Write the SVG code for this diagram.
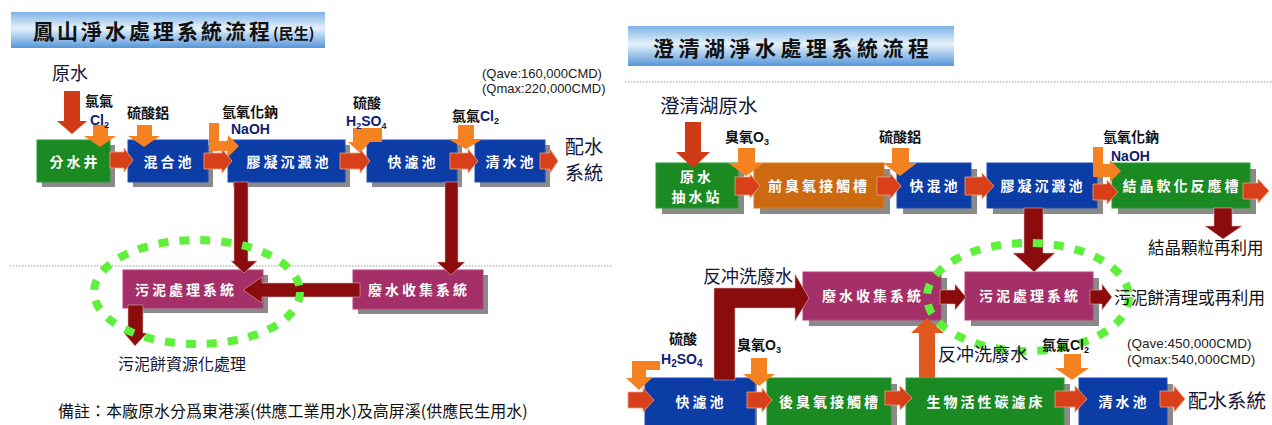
<svg xmlns="http://www.w3.org/2000/svg" width="1272" height="425" viewBox="0 0 1272 425">
<defs>
<linearGradient id="ban" x1="0" y1="0" x2="0" y2="1">
<stop offset="0" stop-color="#7db2e6"/>
<stop offset="0.45" stop-color="#e6f2fb"/>
<stop offset="1" stop-color="#5596da"/>
</linearGradient>
<style>
.t{font-family:"Liberation Sans","Noto Sans CJK TC",sans-serif;fill:#111}
.cj{font-family:"Noto Sans CJK TC",sans-serif;fill:#151535}
.title{font-family:"Noto Sans CJK TC",sans-serif;font-weight:bold;fill:#111;font-size:21px;letter-spacing:3px}
.bx{font-family:"Noto Sans CJK TC",sans-serif;font-weight:bold;fill:#fff;font-size:14px;letter-spacing:3px;text-anchor:middle}
.sh{fill:#8a8a8a}
.blue{fill:#0c3ca6;stroke:#1c4cb8;stroke-width:1}
.green{fill:#1b8a22;stroke:#2a9a32;stroke-width:1}
.mag{fill:#a52f68;stroke:#b5407a;stroke-width:1}
.org{fill:#cc6a12;stroke:#d87a22;stroke-width:1}
.ra{fill:#d8401a;stroke:#f0a080;stroke-width:0.8}
.oa{fill:#f58220}
.da{fill:#8a0c0c;stroke:#d9b0b0;stroke-width:0.6}
.ua{fill:#e05a20}
.dot{stroke:#9a9a9a;stroke-width:1.2;stroke-dasharray:1.5 1.5;fill:none}
.ell{fill:none;stroke:#5ef03a;stroke-width:8;stroke-dasharray:10 11}
.lab{font-family:"Noto Sans CJK TC",sans-serif;font-weight:bold;fill:#111;font-size:14px}
.nb{font-family:"Liberation Sans",sans-serif;font-weight:bold;fill:#102070;font-size:14px}
.q{font-family:"Liberation Sans",sans-serif;fill:#222;font-size:13px}
</style>
</defs>
<rect width="1272" height="425" fill="#fff"/>

<!-- Titles -->
<g id="title-left">
<rect x="11" y="12" width="314" height="36" fill="url(#ban)"/>
<text x="33" y="39" class="title">鳳山淨水處理系統流程<tspan font-size="15" letter-spacing="0">(民生)</tspan></text>
</g>
<g id="title-right">
<rect x="628" y="26" width="326" height="40" fill="url(#ban)"/>
<text x="653" y="56" class="title" style="letter-spacing:4.5px">澄清湖淨水處理系統流程</text>
</g>
<line x1="10" y1="266" x2="612" y2="266" class="dot"/>
<line x1="625" y1="82" x2="1272" y2="82" class="dot"/>

<!-- LEFT nodes -->
<g id="L-fenshuijing"><rect x="42" y="145" width="73" height="42" class="sh"/><rect x="37" y="140" width="73" height="42" class="green"/><text x="75" y="167" class="bx">分水井</text></g>
<g id="L-hunhechi"><rect x="133" y="145" width="80" height="42" class="sh"/><rect x="128" y="140" width="80" height="42" class="blue"/><text x="169" y="167" class="bx">混合池</text></g>
<g id="L-jiaoning"><rect x="233" y="145" width="117" height="42" class="sh"/><rect x="228" y="140" width="117" height="42" class="blue"/><text x="289" y="167" class="bx">膠凝沉澱池</text></g>
<g id="L-kuailv"><rect x="372" y="145" width="90" height="42" class="sh"/><rect x="367" y="140" width="90" height="42" class="blue"/><text x="413" y="167" class="bx">快濾池</text></g>
<g id="L-qingshui"><rect x="480" y="145" width="70" height="42" class="sh"/><rect x="475" y="140" width="70" height="42" class="blue"/><text x="511" y="167" class="bx">清水池</text></g>
<g id="L-wuni"><rect x="128" y="275" width="140" height="38" class="sh"/><rect x="123" y="270" width="140" height="38" class="mag"/><text x="186" y="295" class="bx">污泥處理系統</text></g>
<g id="L-feishui"><rect x="358" y="275" width="130" height="39" class="sh"/><rect x="353" y="270" width="130" height="39" class="mag"/><text x="419" y="295" class="bx">廢水收集系統</text></g>

<!-- RIGHT nodes -->
<g id="R-choushui"><rect x="662" y="169" width="82" height="45" class="sh"/><rect x="656" y="163" width="82" height="45" class="green"/><text x="697" y="182" class="bx">原水</text><text x="697" y="202" class="bx">抽水站</text></g>
<g id="R-qianchou"><rect x="760" y="169" width="130" height="45" class="sh"/><rect x="754" y="163" width="130" height="45" class="org"/><text x="819" y="191" class="bx">前臭氧接觸槽</text></g>
<g id="R-kuaihun"><rect x="903" y="169" width="74" height="45" class="sh"/><rect x="897" y="163" width="74" height="45" class="blue"/><text x="935" y="191" class="bx">快混池</text></g>
<g id="R-jiaoning"><rect x="993" y="169" width="110" height="45" class="sh"/><rect x="987" y="163" width="110" height="45" class="blue"/><text x="1043" y="191" class="bx">膠凝沉澱池</text></g>
<g id="R-jiejing"><rect x="1118" y="169" width="138" height="45" class="sh"/><rect x="1112" y="163" width="138" height="45" class="green"/><text x="1182" y="191" class="bx">結晶軟化反應槽</text></g>
<g id="R-feishui"><rect x="809" y="278" width="138" height="48" class="sh"/><rect x="803" y="272" width="138" height="48" class="mag"/><text x="873" y="301" class="bx">廢水收集系統</text></g>
<g id="R-wuni"><rect x="971" y="278" width="128" height="48" class="sh"/><rect x="965" y="272" width="128" height="48" class="mag"/><text x="1030" y="301" class="bx">污泥處理系統</text></g>
<g id="R-kuailv"><rect x="651" y="384" width="106" height="50" class="sh"/><rect x="645" y="378" width="110" height="50" class="blue"/><text x="701" y="407" class="bx">快濾池</text></g>
<g id="R-houchou"><rect x="773" y="384" width="124" height="50" class="sh"/><rect x="767" y="378" width="124" height="50" class="green"/><text x="830" y="407" class="bx">後臭氧接觸槽</text></g>
<g id="R-shengwu"><rect x="912" y="384" width="158" height="50" class="sh"/><rect x="906" y="378" width="158" height="50" class="green"/><text x="986" y="407" class="bx">生物活性碳濾床</text></g>
<g id="R-qingshui"><rect x="1085" y="384" width="88" height="50" class="sh"/><rect x="1079" y="378" width="88" height="50" class="blue"/><text x="1124" y="407" class="bx">清水池</text></g>

<!-- connectors -->
<g id="connectors">
<!-- left -->
<polygon class="ra" style="fill:#d03a14;stroke:none" points="64,91 80,91 80,121 87,121 72,134 57,121 64,121"/>
<polygon class="oa" points="93,125 108,125 108,136 116,136 100,147 84,136 93,136"/>
<polygon class="oa" points="137,125 152,125 152,136 160,136 144,147 128,136 137,136"/>
<polygon class="oa" points="209,123 219,123 219,141 228,141 228,135 239,146 228,157 228,151 209,151"/>
<polygon class="oa" points="353,128 382,128 382,142 370,142 360,153 348,142 353,142"/>
<polygon class="oa" points="458,125 474,125 474,139 483,139 466,149 448,139 458,139"/>
<polygon class="ra" points="110,152 124,152 124,148 133,160 124,172 124,168 110,168"/>
<polygon class="ra" points="204,153 222,153 222,149 232,161 222,173 222,169 204,169"/>
<polygon class="ra" points="340,153 360,153 360,149 370,161 360,173 360,169 340,169"/>
<polygon class="ra" points="450,153 468,153 468,149 478,161 468,173 468,169 450,169"/>
<polygon class="ra" points="540,153 550,153 550,149 558,161 550,173 550,169 540,169"/>
<polygon class="da" points="234,182 248,182 248,261 257,261 244,273 231,261 234,261"/>
<polygon class="da" points="445,182 458,182 458,262 465,262 451,275 437,262 445,262"/>
<polygon class="da" points="360,283 262,283 262,277 243,290 262,303 262,297 360,297"/>
<polygon class="da" points="128,305 143,305 143,333 147,333 135,346 124,333 128,333"/>
<!-- right -->
<polygon class="ra" style="fill:#d03a14;stroke:none" points="685,122 701,122 701,152 710,152 693,168 676,152 685,152"/>
<polygon class="oa" points="738,148 755,148 755,163 764,163 746,176 728,163 738,163"/>
<polygon class="oa" points="892,148 909,148 909,163 917,163 900,176 883,163 892,163"/>
<polygon class="oa" points="1093,147 1103,147 1103,164 1110,164 1110,160 1121,171 1110,182 1110,177 1093,177"/>
<polygon class="ra" points="735,177 750,177 750,174 760,186 750,198 750,195 735,195"/>
<polygon class="ra" points="877,177 890,177 890,173 901,186 890,199 890,195 877,195"/>
<polygon class="ra" points="965,177 982,177 982,173 994,186 982,199 982,195 965,195"/>
<polygon class="ra" points="1093,184 1107,184 1107,180 1118,192 1107,204 1107,200 1093,200"/>
<polygon class="ra" points="1243,183 1258,183 1258,179 1269,191 1258,203 1258,199 1243,199"/>
<polygon class="da" points="1214,208 1232,208 1232,226 1242,226 1223,239 1205,226 1214,226"/>
<polygon class="da" points="1024,208 1043,208 1043,253 1055,253 1034,272 1013,253 1024,253"/>
<polygon class="da" points="940,290 955,290 955,284 966,297 955,310 955,304 940,304"/>
<polygon class="da" points="1090,290 1102,290 1102,284 1112,297 1102,310 1102,304 1090,304"/>
<polygon class="da" points="714,380 714,288 795,288 795,274 809,298 795,321 795,308 735,308 735,380"/>
<polygon class="ua" points="919,378 919,333 911,333 927,318 944,333 935,333 935,378"/>
<polygon class="oa" points="660,361 660,370 646,370 646,378 652,378 639,390 626,378 632,378 632,361"/>
<polygon class="ra" points="628,392 643,392 643,388 654,400 643,412 643,408 628,408"/>
<polygon class="oa" points="751,358 767,358 767,374 775,374 759,386 743,374 751,374"/>
<polygon class="ra" points="747,392 762,392 762,388 772,400 762,412 762,408 747,408"/>
<polygon class="ra" points="885,391 900,391 900,386 912,398 900,410 900,405 885,405"/>
<polygon class="oa" points="1064,354 1081,354 1081,368 1089,368 1072,380 1055,368 1064,368"/>
<polygon class="ra" points="1055,391 1075,391 1075,386 1087,399 1075,412 1075,407 1055,407"/>
<polygon class="ra" points="1160,391 1174,391 1174,386 1185,399 1174,412 1174,407 1160,407"/>
</g>

<!-- highlight ellipses -->
<ellipse cx="197" cy="292" rx="103" ry="52" class="ell"/>
<ellipse cx="1028" cy="297" rx="101" ry="54" class="ell"/>

<!-- left labels -->
<g id="L-labels">
<text x="52" y="80" class="cj" font-size="18">原水</text>
<text x="85" y="106" class="lab" font-size="13">氯氣</text>
<text x="90" y="125" class="t" font-weight="bold" font-size="14" style="fill:#102070">Cl<tspan font-size="9" dy="3">2</tspan></text>
<text x="127" y="118" class="lab" font-size="14">硫酸鋁</text>
<text x="222" y="117" class="lab" font-size="14.5">氫氧化鈉</text>
<text x="231" y="134" class="nb">NaOH</text>
<text x="353" y="108" class="lab" font-size="13">硫酸</text>
<text x="346" y="126" class="nb">H<tspan font-size="9" dy="3">2</tspan><tspan dy="-3">SO</tspan><tspan font-size="9" dy="3">4</tspan></text>
<text x="452" y="121" class="lab" font-size="13">氯氣<tspan class="nb" style="font-family:'Liberation Sans',sans-serif" fill="#102070">Cl</tspan><tspan font-size="9" dy="3" style="font-family:'Liberation Sans',sans-serif">2</tspan></text>
<text x="482" y="78" class="q">(Qave:160,000CMD)</text>
<text x="482" y="93" class="q">(Qmax:220,000CMD)</text>
<text x="565" y="154" class="cj" font-size="19">配水</text>
<text x="565" y="180" class="cj" font-size="19">系統</text>
<text x="118" y="370" class="cj" font-size="16">污泥餅資源化處理</text>
<text x="58" y="417" class="cj" font-size="16" style="fill:#111">備註：本廠原水分爲東港溪(供應工業用水)及高屏溪(供應民生用水)</text>
</g>

<!-- right labels -->
<g id="R-labels">
<text x="660" y="113" class="cj" font-size="19.5">澄清湖原水</text>
<text x="725" y="142" class="lab" font-size="15">臭氧<tspan class="nb" style="font-family:'Liberation Sans',sans-serif;fill:#111">O</tspan><tspan font-size="9" dy="3" style="font-family:'Liberation Sans',sans-serif">3</tspan></text>
<text x="879" y="142" class="lab" font-size="15">硫酸鋁</text>
<text x="1103" y="142" class="lab" font-size="16">氫氧化鈉</text>
<text x="1111" y="161" class="nb" font-size="16">NaOH</text>
<text x="1148" y="254" class="cj" font-size="16.5" style="fill:#111">結晶顆粒再利用</text>
<text x="1114" y="304" class="cj" font-size="16.8" style="fill:#111">污泥餅清理或再利用</text>
<text x="703" y="283" class="cj" font-size="18">反冲洗廢水</text>
<text x="669" y="344" class="lab" font-size="15">硫酸</text>
<text x="661" y="364" class="nb" font-size="16">H<tspan font-size="10" dy="3">2</tspan><tspan dy="-3">SO</tspan><tspan font-size="10" dy="3">4</tspan></text>
<text x="737" y="350" class="lab" font-size="15">臭氧<tspan class="nb" style="font-family:'Liberation Sans',sans-serif;fill:#111">O</tspan><tspan font-size="9" dy="3" style="font-family:'Liberation Sans',sans-serif">3</tspan></text>
<text x="938" y="361" class="cj" font-size="18">反冲洗廢水</text>
<text x="1042" y="350" class="lab" font-size="15">氯氣<tspan class="nb" style="font-family:'Liberation Sans',sans-serif;fill:#111">Cl</tspan><tspan font-size="9" dy="3" style="font-family:'Liberation Sans',sans-serif">2</tspan></text>
<text x="1127" y="348" class="q" font-size="13.5" style="font-size:13.5px">(Qave:450,000CMD)</text>
<text x="1127" y="364" class="q" style="font-size:13.5px">(Qmax:540,000CMD)</text>
<text x="1188" y="408" class="cj" font-size="19.5">配水系統</text>
</g>
</svg>
